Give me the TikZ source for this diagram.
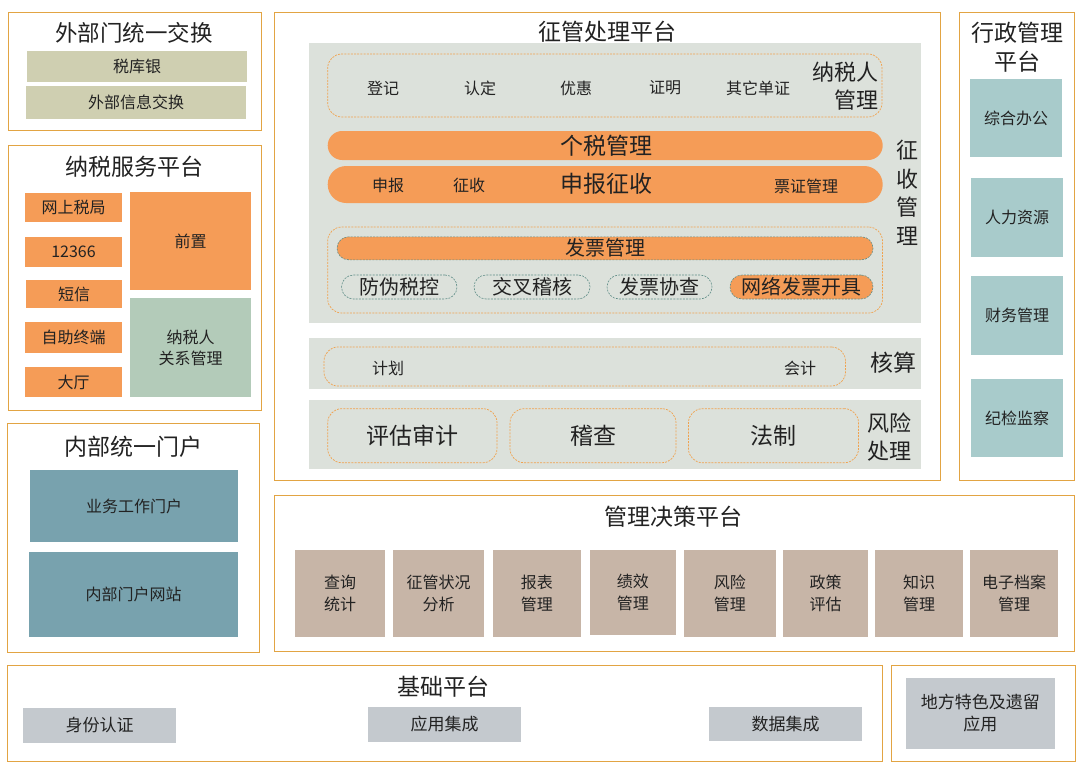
\documentclass[tikz,border=0pt]{standalone}
\usepackage{fontspec}
\setmainfont{Noto Sans CJK SC}
\newcommand\fsz[1]{\fontsize{#1}{#1}\selectfont}
\definecolor{frameC}{HTML}{E2A443}
\definecolor{orangeF}{HTML}{F59C57}
\definecolor{tanF}{HTML}{CFCFB1}
\definecolor{greenF}{HTML}{B3CBB9}
\definecolor{tealF}{HTML}{78A2AE}
\definecolor{lteal}{HTML}{A8CBCB}
\definecolor{panelF}{HTML}{DCE1DB}
\definecolor{taupe}{HTML}{C7B5A7}
\definecolor{baseG}{HTML}{C4C9CE}
\definecolor{txt}{HTML}{222222}
\definecolor{dashO}{HTML}{F0A24E}
\definecolor{dashT}{HTML}{5E8C86}
\tikzset{
  frame/.style={draw=frameC, line width=1pt, fill=white, inner sep=0pt, outer sep=0pt},
  cell/.style={inner sep=0pt, outer sep=0pt, text=txt, align=center, font=\fontsize{16}{21}\selectfont},
  ttl/.style={inner sep=0pt, text=txt, align=center, font=\fsz{23}},
  lbl/.style={inner sep=0pt, text=txt, font=\fsz{16}},
  panel/.style={fill=panelF, inner sep=0pt, outer sep=0pt},
  odash/.style={draw=dashO, line width=0.7pt, dash pattern=on 2pt off 1.2pt, rounded corners=14pt, inner sep=0pt},
  pill/.style={fill=orangeF, inner sep=0pt, text=txt},
  tpill/.style={draw=dashT, line width=0.6pt, dash pattern=on 2pt off 1.2pt, inner sep=0pt, text=txt, font=\fsz{20}}
}
\begin{document}
\begin{tikzpicture}[x=1pt,y=-1pt]
\useasboundingbox (0,0) rectangle (1083,771);
\fill[white] (0,0) rectangle (1083,771);
% ===== frames =====
\node[frame, minimum width=253pt, minimum height=118pt] (fExt) at (134.5,71) {};
\node[frame, minimum width=253pt, minimum height=265pt] (fSvc) at (134.5,277.5) {};
\node[frame, minimum width=252pt, minimum height=229pt] (fInt) at (133,537.5) {};
\node[frame, minimum width=666pt, minimum height=468.5pt] (fZG) at (607,246.5) {};
\node[frame, minimum width=115pt, minimum height=467.5pt] (fXZ) at (1016.5,246.5) {};
\node[frame, minimum width=800pt, minimum height=155.5pt] (fJC) at (674.5,573.3) {};
\node[frame, minimum width=875.6pt, minimum height=96pt] (fBase) at (444.8,713.7) {};
\node[frame, minimum width=184pt, minimum height=96pt] (fDF) at (983,713.7) {};
% ===== external exchange =====
\node[ttl, font=\fsz{22.5}] (tExt) at (134,33) {外部门统一交换};
\node[cell, fill=tanF, minimum width=220pt, minimum height=31pt] (sky) at (137,66.5) {税库银};
\node[cell, fill=tanF, minimum width=220pt, minimum height=33pt] (wbxx) at (136,102.5) {外部信息交换};
% ===== taxpayer service =====
\node[ttl] (tSvc) at (134,167) {纳税服务平台};
\node[cell, fill=orangeF, minimum width=97pt, minimum height=29pt] (wssj) at (73.5,207.5) {网上税局};
\node[cell, fill=orangeF, minimum width=97pt, minimum height=30pt] (n12366) at (73.5,252) {12366};
\node[cell, fill=orangeF, minimum width=96pt, minimum height=28pt] (dx) at (74,294) {短信};
\node[cell, fill=orangeF, minimum width=97pt, minimum height=31pt] (zzzd) at (73.5,337.5) {自助终端};
\node[cell, fill=orangeF, minimum width=97pt, minimum height=30pt] (dt) at (73.5,382) {大厅};
\node[cell, fill=orangeF, minimum width=121pt, minimum height=98pt] (qz) at (190.5,241) {前置};
\node[cell, fill=greenF, minimum width=121pt, minimum height=99pt] (gxgl) at (190.5,347.5) {纳税人\\关系管理};
% ===== internal portal =====
\node[ttl] (tInt) at (133,447) {内部统一门户};
\node[cell, fill=tealF, minimum width=208pt, minimum height=72pt] (ywgz) at (134,506) {业务工作门户};
\node[cell, fill=tealF, minimum width=209pt, minimum height=85pt] (nbmh) at (133.5,594.5) {内部门户网站};
% ===== collection platform =====
\node[ttl] (tZG) at (607,32) {征管处理平台};
\node[panel, minimum width=611.5pt, minimum height=280pt] (p1) at (614.75,182.7) {};
\node[odash, minimum width=554.3pt, minimum height=63pt] (nsr) at (604.85,85.5) {};
\node[lbl] (dj) at (383,88) {登记};
\node[lbl] (rd) at (480,88) {认定};
\node[lbl] (yh) at (576,88) {优惠};
\node[lbl] (zm) at (665,88) {证明};
\node[lbl] (qtdz) at (758,88) {其它单证};
\node[inner sep=0pt, text=txt, align=right, font=\fsz{22}, anchor=east] (nsrgl) at (879,86) {纳税人\\[6pt]管理};
\node[pill, rounded corners=14.5pt, minimum width=555pt, minimum height=29pt] (gs) at (605.2,145.5) {};
\node[text=txt, inner sep=0pt, font=\fsz{23}] (gsl) at (606,145.5) {个税管理};
\node[pill, rounded corners=18.5pt, minimum width=555pt, minimum height=37pt] (sbzs) at (605.2,184.5) {};
\node[lbl] (sb) at (388,185) {申报};
\node[lbl] (zs) at (469,185) {征收};
\node[text=txt, inner sep=0pt, font=\fsz{23}] (sbzsl) at (606,184) {申报征收};
\node[lbl] (pzgl) at (806,186) {票证管理};
\node[odash, minimum width=554.8pt, minimum height=86pt] (fp) at (605.1,270) {};
\node[pill, draw=dashT, line width=0.6pt, dash pattern=on 2pt off 1.2pt, rounded corners=11.5pt, minimum width=536pt, minimum height=23pt, font=\fsz{20}] (fpgl) at (605,248.3) {发票管理};
\node[tpill, rounded corners=12pt, minimum width=115.5pt, minimum height=24pt] (fwsk) at (399.25,287) {防伪税控};
\node[tpill, rounded corners=12pt, minimum width=116pt, minimum height=24pt] (jcjh) at (532,287) {交叉稽核};
\node[tpill, rounded corners=12pt, minimum width=105pt, minimum height=24pt] (fpxc) at (659.5,287) {发票协查};
\node[tpill, fill=orangeF, rounded corners=12pt, minimum width=143pt, minimum height=24pt] (wlfp) at (801.5,287) {网络发票开具};
\node[inner sep=0pt, text=txt, align=center, font=\fontsize{22}{28.5}\selectfont] (zsgl) at (907,193) {征\\收\\管\\理};
\node[panel, minimum width=611.5pt, minimum height=51pt] (p2) at (614.75,363.5) {};
\node[odash, minimum width=521.5pt, minimum height=39pt] (hsd) at (584.75,366.5) {};
\node[lbl] (jh) at (388,368) {计划};
\node[lbl] (kj) at (800,368) {会计};
\node[ttl] (hs) at (893,363) {核算};
\node[panel, minimum width=611.5pt, minimum height=68.7pt] (p3) at (614.75,434.35) {};
\node[odash, minimum width=169.3pt, minimum height=54pt, text=txt, font=\fsz{23}] (pgsj) at (412.35,435.7) {评估审计};
\node[odash, minimum width=166pt, minimum height=54pt, text=txt, font=\fsz{23}] (jc) at (593,435.7) {稽查};
\node[odash, minimum width=170pt, minimum height=54pt, text=txt, font=\fsz{23}] (fz) at (773.5,435.7) {法制};
\node[inner sep=0pt, text=txt, align=center, font=\fontsize{22}{28}\selectfont] (fxcl) at (889,437) {风险\\处理};
% ===== admin platform =====
\node[inner sep=0pt, text=txt, align=center, font=\fontsize{23}{29}\selectfont] (tXZ) at (1017,47.5) {行政管理\\平台};
\node[cell, fill=lteal, minimum width=92pt, minimum height=78pt] (zhbg) at (1016,118) {综合办公};
\node[cell, fill=lteal, minimum width=92pt, minimum height=79pt] (rlzy) at (1017,217.5) {人力资源};
\node[cell, fill=lteal, minimum width=92pt, minimum height=79pt] (cwgl) at (1017,315.5) {财务管理};
\node[cell, fill=lteal, minimum width=92pt, minimum height=78pt] (jjjc) at (1017,418) {纪检监察};
% ===== decision platform =====
\node[ttl] (tJC) at (673,517) {管理决策平台};
\tikzset{dec/.style={cell, fill=taupe, minimum height=87pt, font=\fontsize{16}{22}\selectfont}}
\node[dec, minimum width=90pt] (cxtj) at (340,593.5) {查询\\统计};
\node[dec, minimum width=91pt] (zgzk) at (438.5,593.5) {征管状况\\分析};
\node[dec, minimum width=87.5pt] (bbgl) at (536.75,593.5) {报表\\管理};
\node[dec, minimum width=85.5pt, minimum height=85pt] (jxgl) at (632.75,592.5) {绩效\\管理};
\node[dec, minimum width=91.6pt] (fxgl) at (729.8,593.5) {风险\\管理};
\node[dec, minimum width=85pt] (zcpg) at (825.5,593.5) {政策\\评估};
\node[dec, minimum width=88pt] (zsgl2) at (919,593.5) {知识\\管理};
\node[dec, minimum width=88pt] (dzda) at (1014,593) {电子档案\\管理};
% ===== base platform =====
\node[ttl] (tBase) at (443,687) {基础平台};
\tikzset{basec/.style={cell, fill=baseG, font=\fsz{17}}}
\node[basec, minimum width=153pt, minimum height=35pt] (sfrz) at (99.5,725.2) {身份认证};
\node[basec, minimum width=153.4pt, minimum height=34.7pt] (yyjc) at (444.7,724.3) {应用集成};
\node[basec, minimum width=153pt, minimum height=34pt] (sjjc) at (785.5,724) {数据集成};
\node[basec, minimum width=148.6pt, minimum height=71.3pt, font=\fontsize{17}{22}\selectfont] (dfts) at (980.3,713.4) {地方特色及遗留\\应用};
\end{tikzpicture}
\end{document}
